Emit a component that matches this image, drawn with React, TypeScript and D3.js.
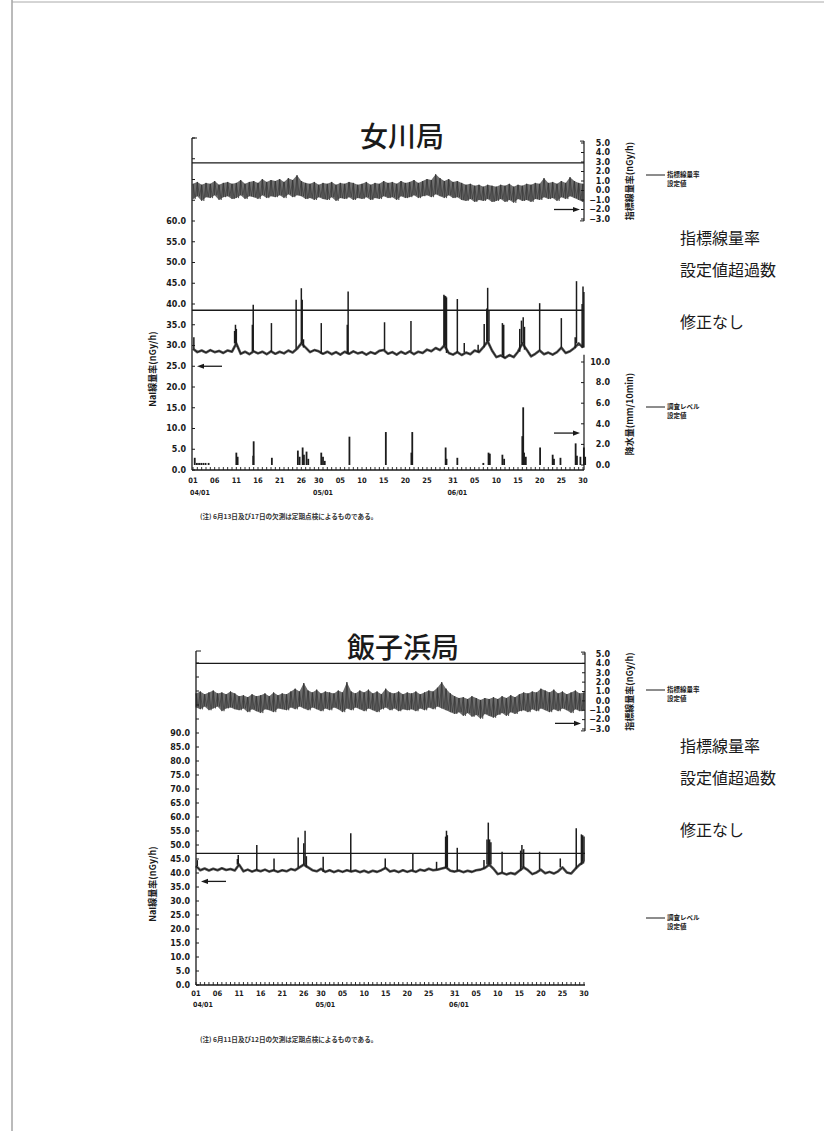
import React from "react";
import * as d3 from "d3";

const W = 824;
const H = 1131;

// x axis: day index, 04/01 = 0 ... 06/30 = 90
const dayTickDays = [0, 5, 10, 15, 20, 25, 29, 34, 39, 44, 49, 54, 60, 65, 70, 75, 80, 85, 90];
const dayTickLabels = ["01", "06", "11", "16", "21", "26", "30", "05", "10", "15", "20", "25", "31", "05", "10", "15", "20", "25", "30"];
const monthDays = [0, 30, 61];
const monthLabels = ["04/01", "05/01", "06/01"];

// ---- 女川局 ----
const onaIdxHi = [
  0.7, 0.9, 0.6, 0.8, 0.7, 1.0, 0.6, 0.8, 0.9, 0.7,
  0.8, 1.1, 0.7, 0.9, 1.0, 0.8, 1.2, 0.9, 1.1, 1.0,
  1.2, 0.9, 1.3, 1.1, 1.6, 1.0, 0.8, 0.7, 0.9, 0.6,
  0.8, 0.7, 0.9, 0.6, 0.8, 0.7, 0.9, 0.8, 0.6, 0.7,
  0.9, 0.6, 0.8, 0.7, 1.0, 0.8, 0.9, 0.7, 1.0, 0.8,
  0.9, 1.1, 0.8, 1.0, 1.2, 1.1, 1.7, 1.3, 1.0, 1.2,
  0.9, 1.0, 0.8, 0.6, 0.7, 0.5, 0.6, 0.4, 0.6, 0.5,
  0.4, 0.6, 0.5, 0.7, 0.4, 0.6, 0.5, 0.7, 0.6, 0.8,
  0.7, 1.3, 0.8, 0.9, 0.7, 1.0, 0.8, 1.4, 1.0, 0.8, 0.7,
];
const onaIdxLo = [
  -0.9, -0.6, -1.1, -0.7, -0.8, -0.5, -1.0, -0.7, -0.6, -0.9,
  -0.8, -0.5, -0.9, -0.6, -0.7, -0.9, -0.5, -0.8, -0.6, -0.7,
  -0.5, -0.8, -0.4, -0.7, -0.5, -0.6, -0.9, -0.8, -1.0, -0.7,
  -0.9, -1.0, -0.7, -1.1, -0.8, -0.9, -0.7, -1.0, -0.8, -0.9,
  -0.7, -1.0, -0.8, -0.9, -0.6, -0.8, -0.7, -1.0, -0.6, -0.8,
  -0.7, -0.5, -0.8, -0.6, -0.5, -0.7, -0.4, -0.6, -0.8, -0.5,
  -0.8, -0.7, -1.0, -1.1, -0.9, -1.2, -1.0, -1.1, -0.9, -1.2,
  -1.1, -0.9, -1.2, -1.0, -1.3, -0.9, -1.1, -1.0, -1.2, -0.9,
  -1.0, -0.7, -0.9, -0.8, -1.1, -0.7, -0.9, -0.6, -0.8, -1.0, -1.2,
];
const onaNaiBase = [
  29.2, 28.4, 28.8, 28.3, 28.9, 28.4, 28.7, 28.2, 28.8, 28.5,
  30.5, 28.0, 28.5, 27.9, 28.6, 28.1, 28.5, 27.9, 28.6, 28.0,
  28.5, 28.1, 28.8, 28.3, 29.2, 30.5, 29.5, 28.4, 28.9, 28.6,
  28.0, 28.5, 27.9, 28.4, 27.8, 28.5, 28.0, 28.6, 28.1, 28.4,
  27.8, 28.4, 28.0, 28.7, 28.9, 28.0, 28.4, 27.8, 28.5, 28.0,
  28.6, 27.9, 28.5, 28.2, 29.0, 28.6, 29.4, 28.9, 30.0, 28.2,
  27.8, 28.4, 27.7, 28.3, 27.9, 28.8, 28.4, 29.6, 31.0, 28.8,
  27.2, 27.6, 27.0, 27.7, 27.2, 28.5, 30.5, 29.0, 27.4, 28.0,
  28.8, 27.9, 28.3, 27.8, 28.4, 29.5, 28.2, 28.6, 29.4, 30.5, 29.5,
];
const onaNaiSpikes: [number, number][] = [
  [0.2, 32.0], [9.6, 33.5], [9.8, 35.0], [10.0, 34.0], [13.7, 35.0], [13.9, 39.8],
  [18.1, 35.4], [23.8, 41.0], [25.0, 43.8], [25.2, 41.0], [25.5, 31.5], [29.6, 35.4],
  [35.6, 35.0], [35.8, 43.0], [44.2, 35.6], [50.3, 35.9], [57.9, 42.2], [58.1, 42.0],
  [58.3, 41.9], [58.5, 41.6], [61.0, 41.2], [62.6, 30.6], [65.8, 30.2], [67.2, 35.2],
  [67.8, 38.9], [68.0, 43.9], [68.3, 38.5], [71.4, 35.4], [71.7, 35.0], [75.4, 34.0],
  [75.8, 36.0], [76.2, 36.8], [76.5, 34.5], [80.0, 40.2], [85.0, 36.6], [88.2, 32.0],
  [88.5, 45.5], [89.8, 40.0], [90.0, 44.2], [90.2, 42.9],
];
const onaRain: [number, number][] = [
  [0.4, 0.7], [0.9, 0.2], [1.4, 0.2], [1.9, 0.2], [2.4, 0.2], [2.9, 0.2], [3.6, 0.2],
  [10.0, 1.2], [10.3, 0.8], [13.9, 0.9], [14.0, 2.3], [18.2, 0.7], [24.2, 1.4],
  [24.6, 0.8], [25.3, 1.7], [25.6, 1.0], [26.2, 1.3], [26.6, 0.6], [29.6, 1.2],
  [30.0, 0.8], [30.4, 0.4], [36.1, 2.75], [44.5, 3.2], [50.4, 1.2], [50.6, 3.2],
  [58.3, 1.7], [58.5, 0.6], [61.0, 0.7], [67.0, 0.2], [68.2, 1.2], [68.5, 1.1],
  [71.4, 1.0], [71.8, 0.6], [76.0, 2.8], [76.2, 5.6], [76.4, 1.2], [76.8, 0.8],
  [80.1, 1.7], [83.0, 1.0], [83.3, 0.6], [84.8, 0.7], [88.3, 2.1], [88.6, 0.9],
  [89.4, 0.8], [90.2, 1.7], [90.5, 0.8],
];

// ---- 飯子浜局 ----
const iikIdxHi = [
  0.8, 1.0, 0.7, 0.9, 1.1, 0.8, 0.9, 0.7, 1.0, 0.8,
  0.5, 0.6, 0.4, 0.7, 0.5, 0.6, 0.8, 0.5, 0.9, 0.6,
  0.8, 0.7, 1.0, 1.3, 1.0, 1.9, 1.1, 0.9, 1.2, 0.8,
  1.0, 0.9, 0.8, 1.1, 0.9, 2.0, 1.0, 0.8, 1.1, 0.9,
  1.2, 0.8, 1.0, 0.7, 1.3, 0.9, 0.8, 1.0, 0.7, 0.9,
  0.8, 1.0, 0.7, 0.9, 1.1, 1.0, 1.4, 2.0, 1.3, 0.8,
  0.5, 0.3, 0.4, 0.2, 0.5, 0.3, 0.1, 0.3, 0.2, 0.4,
  0.2, 0.5, 0.3, 0.6, 0.4, 0.7, 0.9, 0.8, 1.0, 0.9,
  1.3, 1.1, 0.9, 1.2, 0.8, 1.0, 0.7, 0.9, 1.1, 0.8, 0.9,
];
const iikIdxLo = [
  -0.7, -0.9, -0.6, -1.0, -0.8, -0.6, -1.1, -0.8, -0.7, -0.9,
  -1.0, -0.8, -1.2, -0.9, -1.1, -1.3, -0.9, -1.0, -1.2, -0.8,
  -0.9, -1.0, -0.7, -0.9, -0.6, -0.8, -1.0, -0.7, -0.9, -1.1,
  -0.8, -1.0, -0.7, -0.9, -1.2, -0.8, -1.0, -0.7, -0.9, -1.1,
  -0.8, -1.0, -1.2, -0.9, -0.7, -1.0, -0.8, -1.1, -0.9, -1.0,
  -0.9, -1.1, -0.8, -1.0, -0.7, -0.9, -0.6, -0.8, -1.0, -1.2,
  -1.4, -1.2, -1.6, -1.3, -1.7, -1.5, -1.9, -1.4, -1.6, -1.8,
  -1.5, -1.3, -1.6, -1.2, -1.4, -1.1, -1.0, -1.2, -0.9, -1.1,
  -0.8, -1.0, -1.2, -0.9, -1.1, -0.8, -1.0, -1.3, -0.9, -1.1, -1.0,
];
const iikNaiBase = [
  42.5, 41.0, 41.6, 40.9, 41.5, 41.0, 41.7, 41.1, 41.4, 40.9,
  43.0, 40.6, 41.2, 40.5, 41.1, 40.6, 41.2, 40.5, 41.0, 40.4,
  41.0, 40.6, 41.4, 41.0, 42.0, 43.0, 42.0, 41.0, 40.6, 41.5,
  40.4, 41.0, 40.3, 40.9, 40.4, 41.0, 40.5, 40.9, 40.3, 40.8,
  40.2, 40.8, 40.4, 41.0, 41.8, 40.5, 40.9, 40.3, 41.0, 40.4,
  40.9, 40.4, 41.2, 40.8, 41.5, 41.0, 41.2, 41.6, 42.0, 40.8,
  40.5, 40.9, 40.3, 40.8, 40.4, 41.0, 41.2, 41.8, 43.0, 41.5,
  39.6, 40.1, 39.5, 40.0, 39.6, 40.8, 42.0, 41.0, 39.6, 40.2,
  41.2, 39.9, 40.4, 39.8, 40.6, 42.0, 40.2, 39.8, 41.5, 43.0, 44.0,
];
const iikNaiSpikes: [number, number][] = [
  [0.3, 44.6], [9.6, 45.0], [9.8, 46.4], [14.1, 50.0], [18.1, 45.2], [23.7, 52.7],
  [25.0, 50.6], [25.3, 55.1], [25.6, 46.0], [29.5, 45.8], [35.9, 54.2], [43.9, 45.2],
  [50.3, 47.0], [55.8, 44.0], [57.9, 53.0], [58.1, 55.1], [58.3, 53.5], [60.6, 49.0],
  [66.8, 44.6], [67.5, 52.0], [67.8, 58.0], [68.1, 52.0], [68.4, 51.0], [71.0, 47.6],
  [75.3, 48.0], [75.6, 50.0], [76.0, 48.5], [79.7, 47.6], [84.5, 45.2], [88.2, 56.0],
  [89.4, 53.8], [89.7, 53.5], [90.0, 53.0],
];

type Cfg = {
  name: string;
  titleX: number;
  titleY: number;
  axisX: number;
  x0: number;
  x1: number;
  rightX: number;
  naiZeroY: number;
  naiRefVal: number;
  naiRefY: number;
  axisTopY: number;
  idxTopY: number;
  idxBotY: number;
  idxSet: number;
  naiSet: number;
  idxHi: number[];
  idxLo: number[];
  naiBase: number[];
  naiSpikes: [number, number][];
  rain: [number, number][] | null;
  rainZeroY: number;
  rainTopY: number;
  leftTitleY: number;
  labelY: number;
  monthY: number;
  textY: number[];
  legend1Y: number;
  legend2Y: number;
  idxArrow: number;
  naiArrow: number;
  rainArrow: number;
  note: string;
  noteY: number;
};

const onagawa: Cfg = {
  name: "女川局", titleX: 402, titleY: 147,
  axisX: 192, x0: 193, x1: 583, rightX: 584,
  naiZeroY: 470, naiRefVal: 60, naiRefY: 221, axisTopY: 138,
  idxTopY: 143, idxBotY: 219, idxSet: 2.9, naiSet: 38.5,
  idxHi: onaIdxHi, idxLo: onaIdxLo, naiBase: onaNaiBase, naiSpikes: onaNaiSpikes,
  rain: onaRain, rainZeroY: 465, rainTopY: 362,
  leftTitleY: 369, labelY: 483, monthY: 495,
  textY: [244, 276, 328], legend1Y: 175, legend2Y: 407,
  idxArrow: -2.0, naiArrow: 25, rainArrow: 3.1,
  note: "(注) 6月13日及び17日の欠測は定期点検によるものである。", noteY: 519,
};

const iikohama: Cfg = {
  name: "飯子浜局", titleX: 403, titleY: 658,
  axisX: 196, x0: 196, x1: 584, rightX: 585,
  naiZeroY: 985, naiRefVal: 90, naiRefY: 733, axisTopY: 651,
  idxTopY: 654, idxBotY: 729, idxSet: 4.0, naiSet: 47,
  idxHi: iikIdxHi, idxLo: iikIdxLo, naiBase: iikNaiBase, naiSpikes: iikNaiSpikes,
  rain: null, rainZeroY: 0, rainTopY: 0,
  leftTitleY: 884, labelY: 996, monthY: 1007,
  textY: [752, 784, 836], legend1Y: 690, legend2Y: 918,
  idxArrow: -2.4, naiArrow: 37, rainArrow: 0,
  note: "(注) 6月11日及び12日の欠測は定期点検によるものである。", noteY: 1042,
};

const INK = "#1a1a1a";
const NUM = "'DejaVu Sans', sans-serif";
const JP = "'Noto Sans CJK JP', sans-serif";
const COND = "'DejaVu Sans Condensed', 'DejaVu Sans', sans-serif";

const Arrow = ({ x1, x2, y }: { x1: number; x2: number; y: number }) => {
  const dir = Math.sign(x2 - x1);
  return (
    <g>
      <line x1={x1} x2={x2 - dir * 5} y1={y} y2={y} stroke={INK} strokeWidth={1.3} />
      <path d={`M${x2},${y}L${x2 - dir * 7},${y - 2.6}L${x2 - dir * 7},${y + 2.6}Z`} fill={INK} />
    </g>
  );
};

const Station = ({ c }: { c: Cfg }) => {
  const x = d3.scaleLinear().domain([0, 90]).range([c.x0, c.x1]);
  const yN = d3.scaleLinear().domain([0, c.naiRefVal]).range([c.naiZeroY, c.naiRefY]);
  const yI = d3.scaleLinear().domain([-3, 5]).range([c.idxBotY, c.idxTopY]);
  const yR = d3.scaleLinear().domain([0, 10]).range([c.rainZeroY, c.rainTopY]);
  const f1 = d3.format(".1f");
  const axisY = yN(0);
  const naiTicks = d3.range(0, yN.invert(c.axisTopY) + 0.01, 5);
  const idxTicks = d3.range(-3, 5.01, 1);
  const rainTicks = d3.range(0, 10.01, 2);

  const zig: [number, number][] = c.idxHi.flatMap((h, i) => [
    [i, h] as [number, number],
    [Math.min(i + 0.5, 90), c.idxLo[i]] as [number, number],
  ]);
  const zigPath = d3.line().x((d) => x(d[0])).y((d) => yI(d[1]))(zig) || "";
  const bandPath =
    d3.area<number>().x((_, i) => x(i)).y0((_, i) => yI(c.idxLo[i])).y1((v) => yI(v))(c.idxHi) || "";
  const basePath = d3.line<number>().x((_, i) => x(i)).y((v) => yN(v))(c.naiBase) || "";

  return (
    <g>
      <text x={c.titleX} y={c.titleY} textAnchor="middle" fontFamily={JP} fontSize={28} fontWeight={500} fill={INK}>
        {c.name}
      </text>

      {/* upper panel: index dose rate */}
      <path d={bandPath} fill="#6e6e6e" />
      {c.idxHi.map((h, i) => (
        <line key={`v${i}`} x1={x(i)} x2={x(i)} y1={yI(h)} y2={yI(c.idxLo[i])} stroke="#262626" strokeWidth={0.7} />
      ))}
      <path d={zigPath} fill="none" stroke="#333" strokeWidth={0.6} />
      <line x1={c.axisX} x2={c.rightX} y1={yI(c.idxSet)} y2={yI(c.idxSet)} stroke={INK} strokeWidth={1.3} />
      <line x1={c.rightX} x2={c.rightX} y1={yI(5.2)} y2={yI(-3.2)} stroke={INK} strokeWidth={1.2} />
      <line x1={c.rightX - 4} x2={c.rightX} y1={yI(5.2)} y2={yI(5.2)} stroke={INK} strokeWidth={1} />
      <line x1={c.rightX - 4} x2={c.rightX} y1={yI(-3.2)} y2={yI(-3.2)} stroke={INK} strokeWidth={1} />
      {idxTicks.map((t) => (
        <g key={`i${t}`}>
          <line x1={c.rightX - 3} x2={c.rightX} y1={yI(t)} y2={yI(t)} stroke={INK} strokeWidth={1} />
          <text x={610} y={yI(t) + 2.8} textAnchor="end" fontFamily={NUM} fontWeight="bold" fontSize={8} fill={INK}>
            {f1(t)}
          </text>
        </g>
      ))}
      <text
        transform={`translate(633,${(yI(5) + yI(-3)) / 2}) rotate(-90)`}
        textAnchor="middle"
        fontFamily={JP}
        fontWeight={700}
        fontSize={9}
        fill={INK}
      >
        指標線量率(nGy/h)
      </text>
      <Arrow x1={c.rightX - 30} x2={c.rightX - 4} y={yI(c.idxArrow)} />

      {/* middle panel: NaI dose rate */}
      <path d={basePath} fill="none" stroke="#555" strokeWidth={2.6} strokeLinejoin="round" />
      <path d={basePath} fill="none" stroke="#111" strokeWidth={0.9} />
      {c.naiSpikes.map(([d, v], i) => (
        <line
          key={`s${i}`}
          x1={x(d)}
          x2={x(d)}
          y1={yN(c.naiBase[Math.min(90, Math.round(d))])}
          y2={yN(v)}
          stroke="#1c1c1c"
          strokeWidth={1.5}
        />
      ))}
      <line x1={c.axisX} x2={c.rightX} y1={yN(c.naiSet)} y2={yN(c.naiSet)} stroke={INK} strokeWidth={1.3} />
      <Arrow x1={c.axisX + 30} x2={c.axisX + 5} y={yN(c.naiArrow)} />

      {/* left axis */}
      <line x1={c.axisX} x2={c.axisX} y1={c.axisTopY} y2={axisY} stroke={INK} strokeWidth={1.3} />
      <line x1={c.axisX} x2={c.axisX + 5} y1={c.axisTopY} y2={c.axisTopY} stroke={INK} strokeWidth={1} />
      {naiTicks.map((t) => (
        <g key={`n${t}`}>
          <line x1={c.axisX} x2={c.axisX + 3} y1={yN(t)} y2={yN(t)} stroke={INK} strokeWidth={1} />
          {t <= c.naiRefVal && (
            <text x={c.axisX - 6} y={yN(t) + 2.8} textAnchor="end" fontFamily={NUM} fontWeight="bold" fontSize={8} fill={INK}>
              {f1(t)}
            </text>
          )}
        </g>
      ))}
      <text
        transform={`translate(156,${c.leftTitleY}) rotate(-90)`}
        textAnchor="middle"
        fontFamily={JP}
        fontWeight={700}
        fontSize={9}
        fill={INK}
      >
        NaI線量率(nGy/h)
      </text>

      {/* lower panel: precipitation */}
      {c.rain && (
        <g>
          {c.rain.map(([d, v], i) => (
            <rect key={`r${i}`} x={x(d) - 0.9} width={1.8} y={yR(v)} height={yR(0) - yR(v)} fill="#1c1c1c" />
          ))}
          <line x1={c.rightX} x2={c.rightX} y1={yR(10.7)} y2={axisY} stroke={INK} strokeWidth={1.2} />
          {rainTicks.map((t) => (
            <g key={`p${t}`}>
              <line x1={c.rightX - 3} x2={c.rightX} y1={yR(t)} y2={yR(t)} stroke={INK} strokeWidth={1} />
              <text x={610} y={yR(t) + 2.8} textAnchor="end" fontFamily={NUM} fontWeight="bold" fontSize={8} fill={INK}>
                {f1(t)}
              </text>
            </g>
          ))}
          <text
            transform={`translate(633,414) rotate(-90)`}
            textAnchor="middle"
            fontFamily={JP}
            fontWeight={700}
            fontSize={9}
            fill={INK}
          >
            降水量(mm/10min)
          </text>
          <Arrow x1={c.rightX - 30} x2={c.rightX - 4} y={yR(c.rainArrow)} />
        </g>
      )}

      {/* x axis */}
      <line x1={c.axisX} x2={c.rightX} y1={axisY} y2={axisY} stroke={INK} strokeWidth={1.3} />
      {d3.range(0, 91).map((d) => (
        <line key={`t${d}`} x1={x(d)} x2={x(d)} y1={axisY} y2={axisY - 3} stroke={INK} strokeWidth={0.9} />
      ))}
      {dayTickDays.map((d, i) => (
        <text key={`l${i}`} x={x(d)} y={c.labelY} textAnchor="middle" fontFamily={COND} fontWeight="bold" fontSize={7.5} fill={INK}>
          {dayTickLabels[i]}
        </text>
      ))}
      {monthDays.map((d, i) => (
        <text
          key={`m${i}`}
          x={i === 0 ? x(d) - 3 : x(d)}
          y={c.monthY}
          textAnchor={i === 0 ? "start" : "middle"}
          fontFamily={COND}
          fontWeight="bold"
          fontSize={7}
          fill={INK}
        >
          {monthLabels[i]}
        </text>
      ))}

      <text x={200} y={c.noteY} fontFamily={JP} fontWeight={700} fontSize={6.6} fill="#333">
        {c.note}
      </text>

      {/* right side notes */}
      <g fontFamily={JP} fill={INK}>
        <line x1={646} x2={665} y1={c.legend1Y} y2={c.legend1Y} stroke={INK} strokeWidth={1} />
        <text x={667} y={c.legend1Y + 2} fontSize={6.5} fontWeight={700}>指標線量率</text>
        <text x={667} y={c.legend1Y + 10.5} fontSize={6.5} fontWeight={700}>設定値</text>
        <line x1={646} x2={665} y1={c.legend2Y} y2={c.legend2Y} stroke={INK} strokeWidth={1} />
        <text x={667} y={c.legend2Y + 2} fontSize={6.5} fontWeight={700}>調査レベル</text>
        <text x={667} y={c.legend2Y + 10.5} fontSize={6.5} fontWeight={700}>設定値</text>
        <text x={680} y={c.textY[0]} fontSize={16}>指標線量率</text>
        <text x={680} y={c.textY[1]} fontSize={16}>設定値超過数</text>
        <text x={680} y={c.textY[2]} fontSize={16}>修正なし</text>
      </g>
    </g>
  );
};

export default function App() {
  return (
    <svg
      width={W}
      height={H}
      viewBox={`0 0 ${W} ${H}`}
      style={{ position: "absolute", left: 0, top: 0, display: "block" }}
    >
      <rect width={W} height={H} fill="#fff" />
      <line x1={12} x2={12} y1={0} y2={H} stroke="#777" strokeWidth={1} />
      <line x1={12} x2={W} y1={2} y2={2} stroke="#aaa" strokeWidth={1} />
      <Station c={onagawa} />
      <Station c={iikohama} />
    </svg>
  );
}
